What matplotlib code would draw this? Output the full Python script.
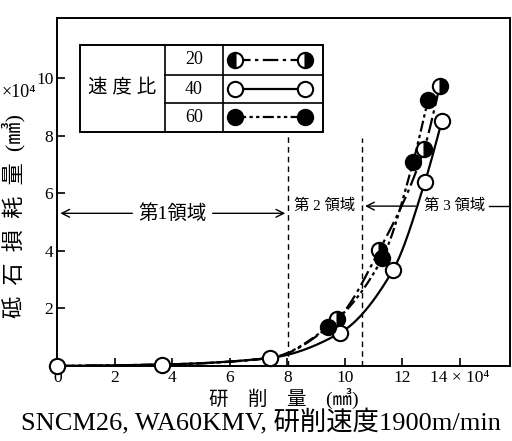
import numpy as np
import matplotlib
matplotlib.use("Agg")
import matplotlib.pyplot as plt
from matplotlib.patches import Rectangle

plt.rcParams["font.family"] = ["Liberation Serif", "Noto Sans CJK JP"]
plt.rcParams["font.size"] = 12

# shared low-wear points (all three speed ratios)
base_x = [0.0, 3.65, 7.4]
base_y = [0.0, 0.05, 0.28]

# ground volume (x10^4 mm3) vs wheel wear (x10^4 mm3) by speed ratio
ratios = ["20", "40", "60"]
x20 = [9.73, 11.2, 12.75, 13.3]
y20 = [1.63, 4.03, 7.53, 9.72]
x40 = [9.83, 11.67, 12.78, 13.37]
y40 = [1.15, 3.33, 6.39, 8.5]
x60 = [9.4, 11.3, 12.37, 12.89]
y60 = [1.35, 3.75, 7.08, 9.24]

xticks = [0, 2, 4, 6, 8, 10, 12, 14]
xticklabels = ["0", "2", "4", "6", "8", "10", "12", "14 × 10⁴"]
yticks = [2, 4, 6, 8, 10]

region_bounds = [8.02, 10.6]


def pchip(x, y, xs):
    """Monotone cubic interpolation (Fritsch-Carlson)."""
    x = np.asarray(x, float)
    y = np.asarray(y, float)
    h = np.diff(x)
    d = np.diff(y) / h
    m = np.zeros_like(y)
    for k in range(1, len(x) - 1):
        if d[k - 1] * d[k] <= 0:
            m[k] = 0
        else:
            w1 = 2 * h[k] + h[k - 1]
            w2 = h[k] + 2 * h[k - 1]
            m[k] = (w1 + w2) / (w1 / d[k - 1] + w2 / d[k])
    m[0] = d[0]
    m[-1] = d[-1]
    out = np.empty_like(xs)
    for i, xv in enumerate(xs):
        k = min(max(np.searchsorted(x, xv) - 1, 0), len(x) - 2)
        t = (xv - x[k]) / h[k]
        h00 = 2 * t**3 - 3 * t**2 + 1
        h10 = t**3 - 2 * t**2 + t
        h01 = -2 * t**3 + 3 * t**2
        h11 = t**3 - t**2
        out[i] = h00 * y[k] + h10 * h[k] * m[k] + h01 * y[k + 1] + h11 * h[k] * m[k + 1]
    return out


def marker(ax, x, y, kind, **kw):
    # 20: half-filled, 40: open, 60: solid
    if kind == "40":
        style = dict(mfc="white", fillstyle="full")
    elif kind == "60":
        style = dict(mfc="black", fillstyle="full")
    else:
        style = dict(mfc="black", fillstyle=kw.pop("half", "right"),
                     markerfacecoloralt="white")
    ax.plot(x, y, "o", ms=11, mec="black", mew=1.5, linestyle="none",
            **style, **kw)


fig = plt.figure(figsize=(5.12, 4.41), dpi=100)
ax = fig.add_axes([0.1123, 0.1701, 0.8838, 0.7891])
ax.set_xlim(0, 15.74)
ax.set_ylim(0, 12.08)

linestyles = {
    "20": (0, (7, 2, 1.5, 2)),
    "40": "-",
    "60": (0, (5, 1.5, 1.5, 1.5, 1.5, 1.5)),
}
series = {"20": (x20, y20), "40": (x40, y40), "60": (x60, y60)}

for r in ratios:
    sx, sy = series[r]
    cx = base_x + sx
    cy = base_y + sy
    xs = np.linspace(cx[0], cx[-1], 300)
    ax.plot(xs, pchip(cx, cy, xs), color="black", lw=1.6,
            linestyle=linestyles[r], zorder=2)
    marker(ax, sx, sy, r, zorder=4)

marker(ax, base_x, base_y, "40", clip_on=False, zorder=5)

# region boundaries
for b, top in zip(region_bounds, [8.1, 7.9]):
    ax.plot([b, b], [0, top], color="black", lw=1, ls=(0, (4, 3)))

arrow = dict(arrowstyle="->", lw=1, color="black", mutation_scale=14)
ax.annotate("", xy=(0, 5.3), xytext=(2.7, 5.3), arrowprops=arrow)
ax.annotate("", xy=(region_bounds[0], 5.3), xytext=(5.3, 5.3), arrowprops=arrow)
ax.text(4.0, 5.3, "第1領域", ha="center", va="center", fontsize=14)
ax.text(9.3, 5.55, "第 2 領域", ha="center", va="center", fontsize=11)
ax.annotate("", xy=(region_bounds[1], 5.55), xytext=(12.55, 5.55), arrowprops=arrow)
ax.text(13.8, 5.55, "第 3 領域", ha="center", va="center", fontsize=11)
ax.plot([15.0, 15.74], [5.55, 5.55], color="black", lw=1)

# speed-ratio key table
tx0, tx1, tx2, tx3 = 0.78, 3.74, 5.76, 9.23
ty0, ty1, ty2, ty3 = 8.13, 9.13, 10.1, 11.15
ax.add_patch(Rectangle((tx0, ty0), tx3 - tx0, ty3 - ty0, fill=False,
                       lw=1.4, ec="black", zorder=3))
for xv in (tx1, tx2):
    ax.plot([xv, xv], [ty0, ty3], color="black", lw=1.2)
for yv in (ty1, ty2):
    ax.plot([tx1, tx3], [yv, yv], color="black", lw=1.2)
ax.text((tx0 + tx1) / 2, (ty0 + ty3) / 2, "速 度 比", ha="center", va="center",
        fontsize=14)
row_y = [(ty2 + ty3) / 2, (ty1 + ty2) / 2, (ty0 + ty1) / 2]
for r, yv in zip(ratios, row_y):
    ax.text((tx1 + tx2) / 2, yv, r, ha="center", va="center", fontsize=13)
    ax.plot([6.17, 8.6], [yv, yv], color="black", lw=1.6, linestyle=linestyles[r])
    if r == "20":
        marker(ax, [6.17], [yv], r, half="left")
        marker(ax, [8.6], [yv], r, half="right")
    else:
        marker(ax, [6.17, 8.6], [yv, yv], r)

# axes styling
for s in ax.spines.values():
    s.set_linewidth(1.4)
ax.set_xticks(xticks)
ax.set_xticklabels(xticklabels)
ax.set_yticks(yticks)
ax.set_yticklabels([str(v) for v in yticks])
ax.tick_params(direction="in", length=6, width=1.2, labelsize=12.5, pad=3)

ax.text(-0.085, 0.785, "×10⁴", transform=ax.transAxes, ha="center", va="center",
        fontsize=13)
ax.set_ylabel("砥\u2002石\u2002損\u2002耗\u2002量\u2002(㎣)", fontsize=16)
ax.yaxis.set_label_coords(-0.07, 0.43)
ax.set_xlabel("研　削　量　(㎣)", fontsize=14)
ax.xaxis.set_label_coords(0.5, -0.064)

fig.text(0.51, 0.043, "SNCM26, WA60KMV, 研削速度1900m/min", ha="center",
         va="center", fontsize=19)

fig.savefig("out.png", dpi=100)
